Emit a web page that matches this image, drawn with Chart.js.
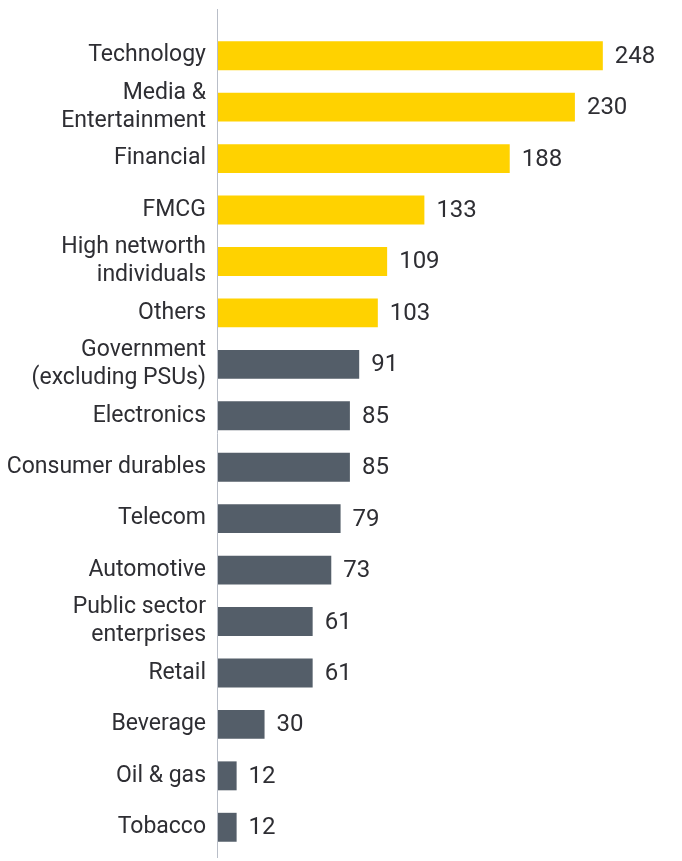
<!DOCTYPE html>
<html>
<head>
<meta charset="utf-8">
<script src="https://cdn.jsdelivr.net/npm/chart.js@4"></script>
<style>
  html, body { margin: 0; padding: 0; background: #ffffff; }
  #wrap { width: 682px; height: 861px; position: relative; }
</style>
</head>
<body>
<div id="wrap"><canvas id="sectorChart"></canvas></div>
<script>
// Categories and values
const categories = [
    'Technology', ['Media &', 'Entertainment'], 'Financial', 'FMCG',
    ['High networth', 'individuals'], 'Others', ['Government', '(excluding PSUs)'],
    'Electronics', 'Consumer durables', 'Telecom', 'Automotive',
    ['Public sector', 'enterprises'], 'Retail', 'Beverage', 'Oil & gas', 'Tobacco'
];
const values = [248, 230, 188, 133, 109, 103, 91, 85, 85, 79, 73, 61, 61, 30, 12, 12];
const highlighted = [true, true, true, true, true, true, false, false, false, false, false, false, false, false, false, false];

const yellow = '#FFD200';
const slate = '#545E69';
const textColor = '#2E2E33';

// value labels at the end of each bar + the vertical axis line
const barLabels = {
    id: 'barLabels',
    afterDatasetsDraw(chart) {
        const ctx = chart.ctx;
        const meta = chart.getDatasetMeta(0);
        ctx.save();
        ctx.font = '24px Roboto';
        ctx.fillStyle = textColor;
        ctx.textAlign = 'left';
        ctx.textBaseline = 'middle';
        meta.data.forEach((bar, i) => {
            ctx.fillText(values[i], bar.x + 12, bar.y + 1);
        });
        ctx.restore();
    },
    afterDraw(chart) {
        const ctx = chart.ctx;
        const a = chart.chartArea;
        ctx.save();
        ctx.strokeStyle = '#B9BEC8';
        ctx.lineWidth = 1;
        ctx.beginPath();
        ctx.moveTo(a.left - 0.5, a.top - 21);
        ctx.lineTo(a.left - 0.5, a.bottom + 5);
        ctx.stroke();
        ctx.restore();
    }
};

const ctx = document.getElementById('sectorChart').getContext('2d');
new Chart(ctx, {
    type: 'bar',
    data: {
        labels: categories,
        datasets: [{
            data: values,
            backgroundColor: highlighted.map(h => h ? yellow : slate),
            barPercentage: 0.75,
            categoryPercentage: 0.75
        }]
    },
    options: {
        indexAxis: 'y',
        responsive: true,
        maintainAspectRatio: false,
        animation: false,
        layout: { padding: { top: 30, bottom: 8, left: 0, right: 14 } },
        plugins: {
            legend: { display: false },
            tooltip: { enabled: false }
        },
        scales: {
            x: {
                display: false,
                min: 0,
                max: 290
            },
            y: {
                afterFit(scale) {
                    scale.width = 218;
                    scale.paddingTop = 0;
                    scale.paddingBottom = 0;
                },
                grid: { display: false, drawTicks: false },
                border: { display: false },
                ticks: {
                    autoSkip: false,
                    padding: 12,
                    color: textColor,
                    font: { family: 'Roboto', size: 23, lineHeight: 1.2 }
                }
            }
        }
    },
    plugins: [barLabels]
});
</script>
</body>
</html>
